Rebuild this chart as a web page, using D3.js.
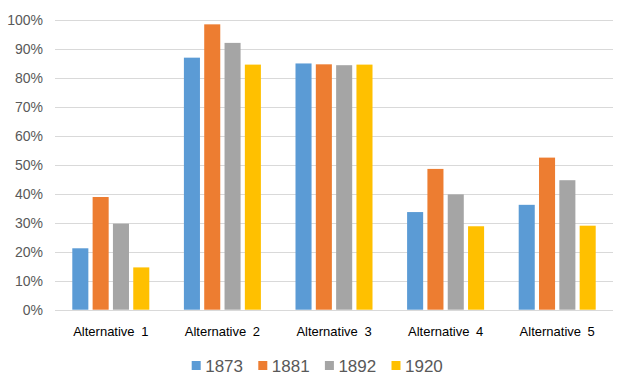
<!DOCTYPE html>
<html>
<head>
<meta charset="utf-8">
<script src="https://cdn.jsdelivr.net/npm/d3@7"></script>
<style>
  html, body { margin: 0; padding: 0; background: #fff; }
  svg { display: block; font-family: "Liberation Sans", Arial, sans-serif; }
</style>
</head>
<body>
<svg id="chart" width="633" height="381"></svg>
<script>
const categories = ["Alternative 1", "Alternative 2", "Alternative 3", "Alternative 4", "Alternative 5"];
const seriesNames = ["1873", "1881", "1892", "1920"];
const colors = ["#5B9BD5", "#ED7D31", "#A5A5A5", "#FFC000"];
const values1873 = [0.212, 0.870, 0.850, 0.337, 0.362];
const values1881 = [0.389, 0.985, 0.847, 0.486, 0.525];
const values1892 = [0.297, 0.921, 0.844, 0.398, 0.447];
const values1920 = [0.146, 0.846, 0.846, 0.288, 0.290];
const yTicks = [0, 0.1, 0.2, 0.3, 0.4, 0.5, 0.6, 0.7, 0.8, 0.9, 1.0];

const seriesValues = [values1873, values1881, values1892, values1920];

(function () {
const svg = d3.select("#chart");
const plotL = 55, plotR = 613, plotT = 20, plotB = 309.7;

const y = d3.scaleLinear().domain([0, 1]).range([plotB, plotT]);
const x0 = d3.scaleBand().domain(categories).range([plotL, plotR]).paddingInner(0.31).paddingOuter(0.155);
const x1 = d3.scaleBand().domain(seriesNames).range([0, x0.bandwidth()]).paddingInner(0.21);

// gridlines
svg.append("g")
  .selectAll("line")
  .data(yTicks)
  .join("line")
  .attr("x1", plotL).attr("x2", plotR)
  .attr("y1", d => Math.round(y(d)) + 0.5).attr("y2", d => Math.round(y(d)) + 0.5)
  .attr("stroke", "#D9D9D9").attr("stroke-width", 1.2);

// y axis labels
const yAxis = d3.axisLeft(y).tickValues(yTicks).tickFormat(d3.format(".0%")).tickSize(0).tickPadding(0);
const ya = svg.append("g").attr("transform", `translate(${plotL - 12},0)`).call(yAxis);
ya.select(".domain").remove();
ya.selectAll("text").attr("font-size", 14).attr("fill", "#595959")
  .attr("font-family", "'Liberation Sans', Arial, sans-serif");

// bars
const groups = svg.append("g").selectAll("g")
  .data(categories)
  .join("g")
  .attr("transform", d => `translate(${x0(d)},0)`);

groups.selectAll("rect")
  .data((c, ci) => seriesNames.map((s, si) => ({ s, si, v: seriesValues[si][ci] })))
  .join("rect")
  .attr("x", d => x1(d.s))
  .attr("width", x1.bandwidth())
  .attr("y", d => y(d.v))
  .attr("height", d => y(0) - y(d.v))
  .attr("fill", d => colors[d.si]);

// category labels
const xAxis = d3.axisBottom(x0).tickSize(0).tickPadding(0);
const xa = svg.append("g").attr("transform", `translate(0,${plotB + 17})`).call(xAxis);
xa.select(".domain").remove();
xa.selectAll("text").attr("font-size", 13).attr("fill", "#000")
  .attr("font-family", "'Liberation Sans', Arial, sans-serif")
  .attr("word-spacing", 3);

// legend
const legend = svg.append("g").attr("transform", "translate(191.7,361)");
const item = legend.selectAll("g")
  .data(seriesNames)
  .join("g")
  .attr("transform", (d, i) => `translate(${i * 66.6},0)`);
item.append("rect").attr("width", 9).attr("height", 9).attr("fill", (d, i) => colors[i]);
item.append("text")
  .attr("x", 13.5).attr("y", 11.3)
  .attr("font-size", 17).attr("fill", "#595959")
  .text(d => d);
})();
</script>
</body>
</html>
